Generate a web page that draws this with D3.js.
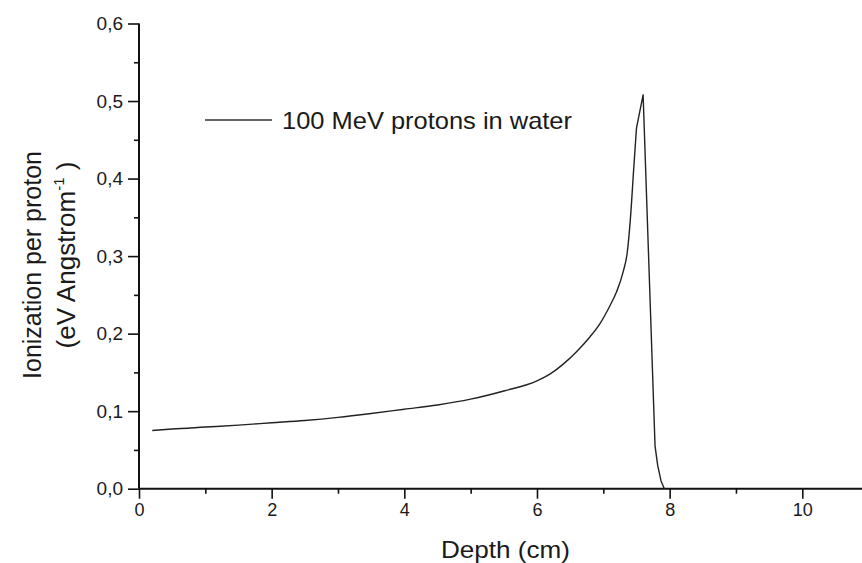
<!DOCTYPE html>
<html><head><meta charset="utf-8">
<script src="https://cdn.jsdelivr.net/npm/d3@7"></script>
<style>body{margin:0;background:#fff;} text{font-family:"Liberation Sans",Arial,sans-serif;fill:#1a1a1a;}</style>
</head><body>
<svg id="c" width="862" height="563"></svg>
<script>
const depth = [0.2, 0.5, 1.0, 1.5, 2.0, 2.5, 3.0, 3.5, 4.0, 4.5, 5.0, 5.5, 6.0, 6.2, 6.4, 6.6, 6.8, 6.95, 7.1, 7.2, 7.3, 7.36, 7.41, 7.46, 7.5, 7.6, 7.78, 7.82, 7.87, 7.92];
const ionization = [0.075, 0.077, 0.0795, 0.082, 0.085, 0.088, 0.092, 0.097, 0.1025, 0.108, 0.1155, 0.126, 0.139, 0.148, 0.161, 0.177, 0.196, 0.213, 0.236, 0.254, 0.280, 0.304, 0.350, 0.415, 0.465, 0.508, 0.055, 0.030, 0.010, 0.0];
const xTicks = [0, 2, 4, 6, 8, 10];
const xMinor = [1, 3, 5, 7, 9];
const yTicks = [0, 0.1, 0.2, 0.3, 0.4, 0.5, 0.6];
const yMinor = [0.05, 0.15, 0.25, 0.35, 0.45, 0.55];
const seriesName = "100 MeV protons in water";

const svg = d3.select("#c");
const x = d3.scaleLinear().domain([0, 10.9]).range([139, 862]);
const y = d3.scaleLinear().domain([0, 0.6]).range([488.7, 23.5]);

// axes
const gx = svg.append("g").attr("transform", `translate(0,${y(0)})`);
gx.call(d3.axisBottom(x).tickValues(xTicks).tickSize(10).tickPadding(5).tickFormat(d3.format("d")));
gx.append("g").call(d3.axisBottom(x).tickValues(xMinor).tickSize(5).tickFormat(""));
gx.selectAll(".domain").remove();
gx.append("line").attr("x1", x(0)).attr("x2", 862).attr("stroke", "#111").attr("stroke-width", 2);
gx.selectAll(".tick line").attr("stroke", "#111").attr("stroke-width", 1.6);
gx.selectAll(".tick text").attr("font-size", 18).attr("fill", "#1a1a1a");

const gy = svg.append("g").attr("transform", `translate(${x(0)},0)`);
gy.call(d3.axisLeft(y).tickValues(yTicks).tickSize(11).tickPadding(5).tickFormat(d => d3.format(".1f")(d).replace(".", ",")));
gy.append("g").call(d3.axisLeft(y).tickValues(yMinor).tickSize(5).tickFormat(""));
gy.selectAll(".domain").remove();
gy.append("line").attr("y1", y(0)).attr("y2", y(0.6)).attr("stroke", "#111").attr("stroke-width", 2);
gy.selectAll(".tick line").attr("stroke", "#111").attr("stroke-width", 1.6);
gy.selectAll(".tick text").attr("font-size", 19).attr("fill", "#1a1a1a");

// curve: smooth rise up to the shoulder, straight segments through the Bragg peak
const pts = depth.map((d, i) => [d, ionization[i]]);
const iPeak = ionization.indexOf(d3.max(ionization));
const rise = pts.slice(0, iPeak);
const fall = pts.slice(iPeak - 1);
const lineSmooth = d3.line().x(d => x(d[0])).y(d => y(d[1])).curve(d3.curveMonotoneX);
const lineStraight = d3.line().x(d => x(d[0])).y(d => y(d[1]));
const curveD = lineSmooth(rise) + lineStraight(fall).replace(/^M/, "L");
svg.append("path")
  .attr("fill", "none").attr("stroke", "#222").attr("stroke-width", 1.4).attr("stroke-linejoin", "round")
  .attr("d", curveD);

// legend
svg.append("line").attr("x1", 205).attr("x2", 272).attr("y1", 120).attr("y2", 120)
  .attr("stroke", "#333").attr("stroke-width", 1.4);
svg.append("text").attr("x", 282).attr("y", 129).attr("font-size", 24)
  .attr("textLength", 290).attr("lengthAdjust", "spacingAndGlyphs").text(seriesName);

// axis titles
svg.append("text").attr("x", 441).attr("y", 558).attr("font-size", 24)
  .attr("textLength", 129).attr("lengthAdjust", "spacingAndGlyphs").text("Depth (cm)");
svg.append("text").attr("transform", "translate(41,265) rotate(-90)").attr("text-anchor", "middle").attr("font-size", 25).text("Ionization per proton");
const t2 = svg.append("text").attr("transform", "translate(75,255) rotate(-90)").attr("text-anchor", "middle").attr("font-size", 26);
t2.append("tspan").text("(eV Angstrom");
t2.append("tspan").attr("dy", -11).attr("font-size", 15).text("-1");
t2.append("tspan").attr("dy", 11).text(" )");
</script>
</body></html>
